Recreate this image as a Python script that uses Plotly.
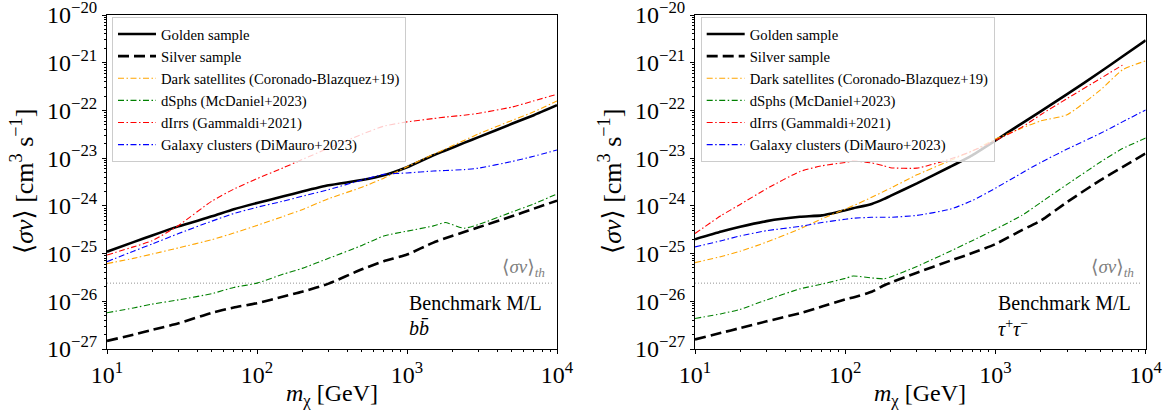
import plotly.graph_objects as go

# ---------------- data (log10 of <sigma v> in cm^3 s^-1) ----------------
mass_bb = [10, 15, 20, 30, 50, 70, 100, 150, 200, 300, 500, 700, 1000, 1500, 1800, 2400, 3000, 5000, 7000, 10000]
golden_bb = [-24.96, -24.76, -24.62, -24.43, -24.22, -24.07, -23.94, -23.80, -23.70, -23.57, -23.46, -23.36, -23.19, -22.94, -22.84, -22.68, -22.56, -22.28, -22.10, -21.89]
silver_bb = [-26.83, -26.70, -26.60, -26.46, -26.24, -26.13, -26.04, -25.90, -25.80, -25.63, -25.33, -25.16, -25.02, -24.77, -24.68, -24.55, -24.45, -24.22, -24.06, -23.89]
darksat_bb = [-25.21, -25.10, -25.01, -24.88, -24.71, -24.57, -24.41, -24.22, -24.08, -23.85, -23.61, -23.42, -23.18, -22.92, -22.81, -22.63, -22.49, -22.21, -22.03, -21.80]
dsph_bb = [-26.24, -26.14, -26.06, -25.97, -25.84, -25.71, -25.62, -25.43, -25.31, -25.10, -24.83, -24.63, -24.53, -24.42, -24.35, -24.47, -24.39, -24.13, -23.96, -23.75]
dirr_bb = [-25.03, -24.86, -24.73, -24.41, -23.90, -23.65, -23.43, -23.20, -23.03, -22.79, -22.50, -22.33, -22.24, -22.17, -22.14, -22.10, -22.06, -21.93, -21.80, -21.66]
clusters_bb = [-25.17, -24.95, -24.80, -24.58, -24.32, -24.16, -24.03, -23.90, -23.80, -23.66, -23.46, -23.34, -23.31, -23.27, -23.26, -23.24, -23.21, -23.07, -22.96, -22.83]

mass_tau = [10, 15, 20, 30, 50, 70, 100, 113, 150, 180, 200, 300, 500, 700, 1000, 1500, 2000, 3000, 5000, 7000, 10000]
golden_tau = [-24.70, -24.54, -24.44, -24.32, -24.23, -24.20, -24.09, -24.05, -23.96, -23.86, -23.79, -23.53, -23.18, -22.94, -22.63, -22.27, -22.02, -21.66, -21.19, -20.87, -20.53]
silver_tau = [-26.80, -26.66, -26.56, -26.42, -26.25, -26.11, -25.96, -25.92, -25.80, -25.67, -25.61, -25.40, -25.15, -24.99, -24.80, -24.51, -24.31, -23.92, -23.46, -23.19, -22.90]
darksat_tau = [-25.19, -25.06, -24.95, -24.76, -24.48, -24.27, -24.07, -24.00, -23.82, -23.70, -23.63, -23.35, -23.05, -22.85, -22.60, -22.37, -22.22, -22.09, -21.57, -21.15, -20.96]
dsph_tau = [-26.36, -26.26, -26.17, -25.97, -25.74, -25.64, -25.52, -25.47, -25.51, -25.53, -25.49, -25.27, -24.95, -24.73, -24.49, -24.20, -23.93, -23.55, -23.08, -22.80, -22.58]
dirr_tau = [-24.58, -24.20, -23.97, -23.64, -23.28, -23.16, -23.09, -23.06, -23.10, -23.16, -23.20, -23.21, -23.02, -22.85, -22.63, -22.35, -22.09, -21.75, -21.33, -21.05, None]
clusters_tau = [-24.86, -24.73, -24.63, -24.52, -24.43, -24.35, -24.28, -24.26, -24.24, -24.24, -24.24, -24.20, -24.07, -23.89, -23.63, -23.31, -23.09, -22.81, -22.48, -22.24, -21.99]

thermal_mass = [10, 9200]
thermal_log = [-25.62, -25.62]

series_names = ["Golden sample", "Silver sample", "Dark satellites (Coronado-Blazquez+19)",
                "dSphs (McDaniel+2023)", "dIrrs (Gammaldi+2021)", "Galaxy clusters (DiMauro+2023)"]
x_ticks = [10, 100, 1000, 10000]
x_ticktext = ["10<sup>1</sup>", "10<sup>2</sup>", "10<sup>3</sup>", "10<sup>4</sup>"]
y_exps = [-27, -26, -25, -24, -23, -22, -21, -20]
y_ticktext = ["10<sup>\u2212%d</sup>" % (-e) for e in y_exps]

# ---------------- styling ----------------
W, H = 1175, 412
FONT = "Liberation Serif, 'Times New Roman', Times, 'DejaVu Serif', serif"
styles = [
    dict(color="black", width=2.6, dash="solid"),
    dict(color="black", width=2.6, dash="11px,5px"),
    dict(color="#ffa500", width=1.1, dash="6px,2.5px,1.5px,2.5px"),
    dict(color="#008000", width=1.1, dash="6px,2.5px,1.5px,2.5px"),
    dict(color="#ff0000", width=1.1, dash="6px,2.5px,1.5px,2.5px"),
    dict(color="#0000ff", width=1.1, dash="6px,2.5px,1.5px,2.5px"),
]


def lin(vals):
    return [None if v is None else 10 ** v for v in vals]


fig = go.Figure()
panels = [
    ("x", "y", "legend", mass_bb, [golden_bb, silver_bb, darksat_bb, dsph_bb, dirr_bb, clusters_bb]),
    ("x2", "y2", "legend2", mass_tau, [golden_tau, silver_tau, darksat_tau, dsph_tau, dirr_tau, clusters_tau]),
]
for xa, ya, lg, mass, series in panels:
    fig.add_trace(go.Scatter(x=thermal_mass, y=lin(thermal_log), mode="lines",
                             line=dict(color="#888888", width=0.9, dash="1px,2px"),
                             showlegend=False, xaxis=xa, yaxis=ya, hoverinfo="skip"))
    for name, vals, st in zip(series_names, series, styles):
        fig.add_trace(go.Scatter(x=mass, y=lin(vals), mode="lines", name=name,
                                 line=dict(color=st["color"], width=st["width"], dash=st["dash"],
                                           shape="spline", smoothing=0.5),
                                 connectgaps=False, xaxis=xa, yaxis=ya, legend=lg))

x_minor = [k * 10 ** d for d in range(1, 4) for k in range(2, 10)]
y_minor = [k * 10.0 ** d for d in range(-27, -20) for k in range(2, 10)]

ax_common = dict(showline=True, linecolor="black", linewidth=1, mirror=True, ticks="outside",
                 ticklen=4, tickwidth=1, tickcolor="black", showgrid=False, zeroline=False,
                 ticklabeloverflow="allow", automargin=False,
                 tickfont=dict(family=FONT, size=24, color="black"))

x_dom1 = [107 / W, 557 / W]
x_dom2 = [695 / W, 1145.7 / W]
y_dom = [(H - 349) / H, (H - 15) / H]

layout = dict(
    template="none",
    width=W, height=H, margin=dict(l=0, r=0, t=0, b=0, autoexpand=False),
    paper_bgcolor="white", plot_bgcolor="white",
    font=dict(family=FONT, color="black"),
)
for i, xd in enumerate([x_dom1, x_dom2]):
    sfx = "" if i == 0 else "2"
    layout["xaxis" + sfx] = dict(ax_common, type="log", range=[1, 4], domain=xd, anchor="y" + sfx,
                                 tickmode="array", tickvals=x_ticks, ticktext=x_ticktext,
                                 minor=dict(tickmode="array", tickvals=x_minor, ticks="outside",
                                            ticklen=2, tickcolor="black", showgrid=False))
    layout["yaxis" + sfx] = dict(ax_common, type="log", range=[-27, -20], domain=y_dom,
                                 anchor="x" + sfx,
                                 tickmode="array", tickvals=[10.0 ** e for e in y_exps], ticktext=y_ticktext,
                                 minor=dict(tickmode="array", tickvals=y_minor, ticks="outside",
                                            ticklen=2, tickcolor="black", showgrid=False))

leg_common = dict(xanchor="left", yanchor="top", bgcolor="rgba(255,255,255,0.8)",
                  bordercolor="#cccccc", borderwidth=1, itemwidth=38,
                  font=dict(family=FONT, size=14.7, color="black"))
layout["legend"] = dict(leg_common, x=112 / W, y=(H - 17) / H)
layout["legend2"] = dict(leg_common, x=700.7 / W, y=(H - 17) / H)

ann = []
for i, (xd, chan) in enumerate([(x_dom1, "<i>b</i><i>b\u0304</i>"),
                                (x_dom2, "<i>\u03c4</i><sup>+</sup><i>\u03c4</i><sup>\u2212</sup>")]):
    sfx = "" if i == 0 else "2"
    ann.append(dict(xref="x%s domain" % sfx, yref="y%s domain" % sfx, x=0.667, y=0.138,
                    xanchor="left", yanchor="middle", showarrow=False,
                    text="Benchmark M/L", font=dict(family=FONT, size=20, color="black")))
    ann.append(dict(xref="x%s domain" % sfx, yref="y%s domain" % sfx, x=0.667, y=0.063,
                    xanchor="left", yanchor="middle", showarrow=False,
                    text=chan, font=dict(family=FONT, size=20, color="black")))
    ann.append(dict(xref="x%s domain" % sfx, yref="y%s domain" % sfx, x=0.978, y=0.2425,
                    xanchor="right", yanchor="middle", showarrow=False,
                    text="\u27e8<i>\u03c3v</i>\u27e9<sub><i>th</i></sub>",
                    font=dict(family=FONT, size=19, color="#808080")))
    # axis titles
    xc = (xd[0] + xd[1]) / 2
    ann.append(dict(xref="paper", yref="paper", x=xc, y=(H - 395) / H, xanchor="center",
                    yanchor="middle", showarrow=False,
                    text="<i>m</i><sub>\u03c7</sub> [GeV]", font=dict(family=FONT, size=24, color="black")))
    ann.append(dict(xref="paper", yref="paper", x=xd[0] - 85 / W, y=(H - 182) / H, xanchor="center",
                    yanchor="middle", showarrow=False, textangle=-90,
                    text="\u27e8<i>\u03c3v</i>\u27e9 [cm<sup>3</sup> s<sup>\u22121</sup>]",
                    font=dict(family=FONT, size=26, color="black")))
layout["annotations"] = ann

fig.update_layout(**layout)
fig.write_html("out.html")
